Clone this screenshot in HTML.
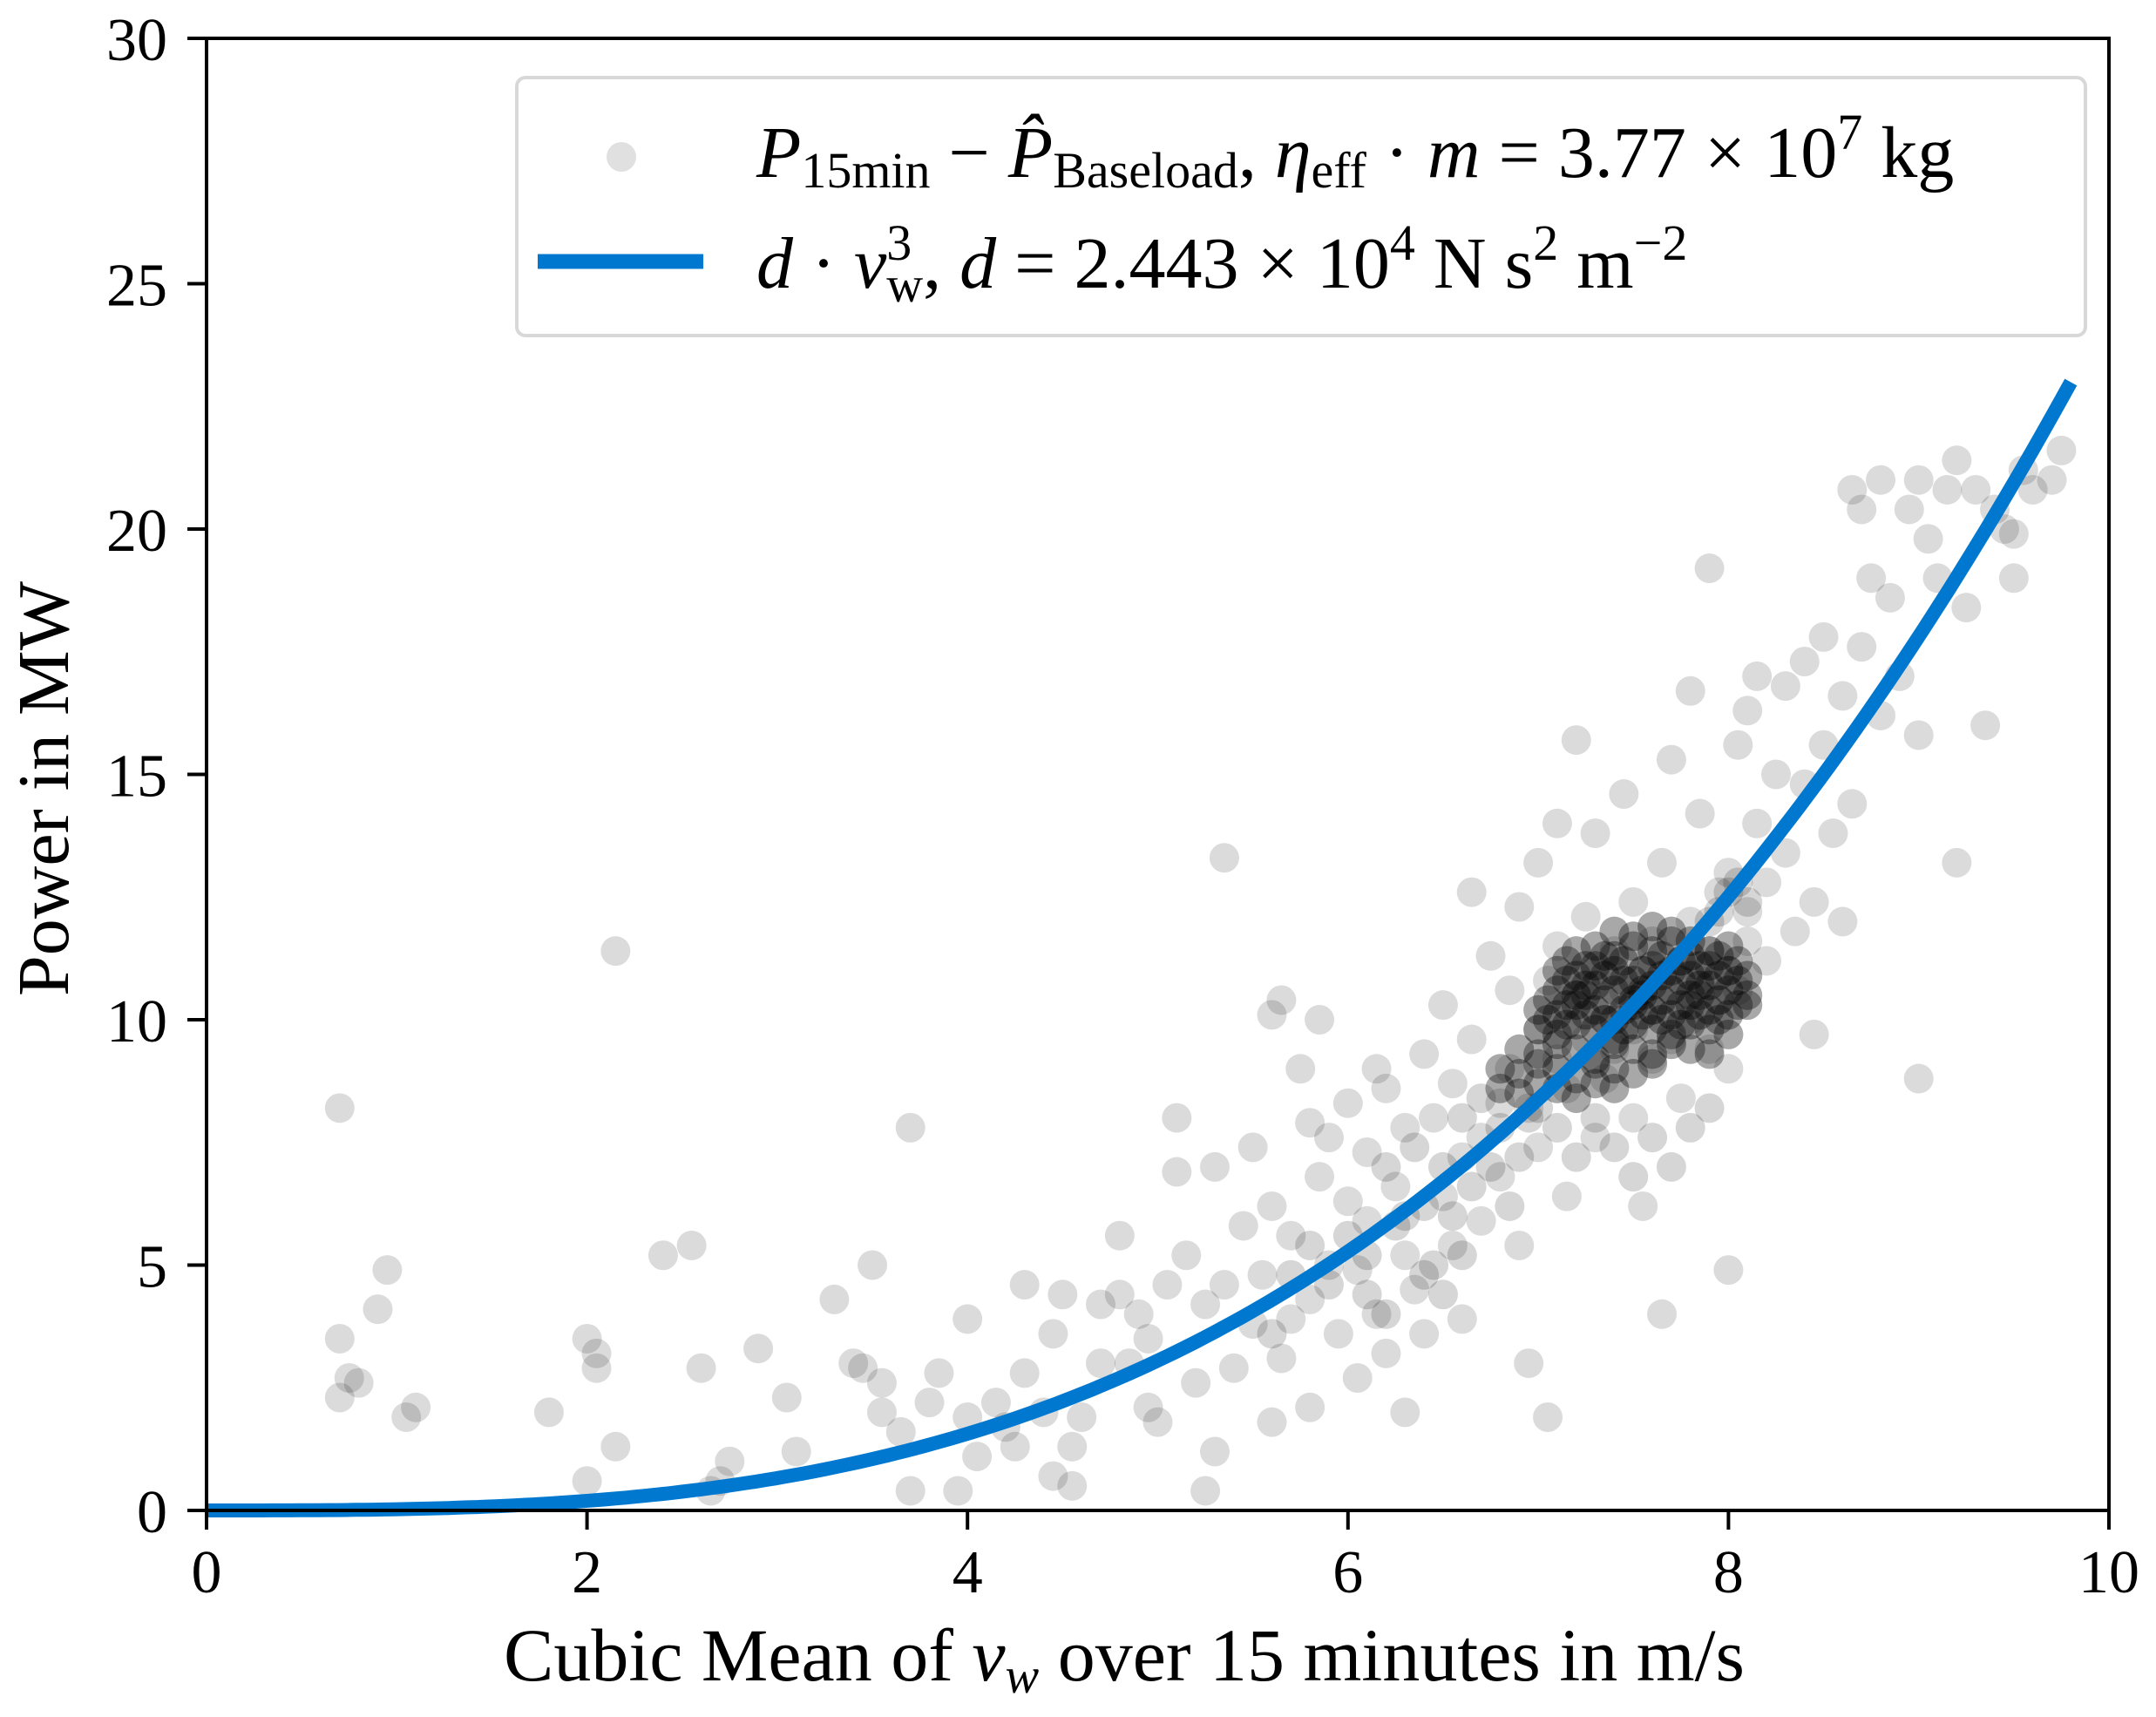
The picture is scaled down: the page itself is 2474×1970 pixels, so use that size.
<!DOCTYPE html>
<html><head><meta charset="utf-8"><style>
html,body{margin:0;padding:0;background:#fff;}
svg{display:block;font-family:"Liberation Serif",serif;}
</style></head><body>
<svg id="chart" width="2474" height="1970" viewBox="0 0 2474 1970">
<g id="dots"></g>
<path id="curve" fill="none" stroke="#0078d0" stroke-width="16"/>
<rect x="237" y="44" width="2183" height="1689" fill="none" stroke="#000" stroke-width="4"/>
<g id="axes"></g>
<text x="1290" y="1928" font-size="86" text-anchor="middle">Cubic Mean of <tspan font-style="italic">v</tspan><tspan font-style="italic" font-size="58" dy="14">w</tspan><tspan dy="-14"> over 15 minutes in m/s</tspan></text>
<text transform="translate(78,905) rotate(-90)" font-size="84" text-anchor="middle">Power in MW</text>
<g>
<rect x="593" y="89" width="1800" height="296" rx="10" fill="#fff" fill-opacity="0.85" stroke="#d8d8d8" stroke-width="4"/>
<circle cx="713" cy="180" r="17" fill="#000" fill-opacity="0.12"/>
<line x1="617" y1="300" x2="807" y2="300" stroke="#0078d0" stroke-width="17"/>
<text x="868" y="203" font-size="84"><tspan font-style="italic">P</tspan><tspan font-size="58" dy="12">15min</tspan><tspan dy="-12"> − </tspan><tspan font-style="italic">P̂</tspan><tspan font-size="58" dy="12">Baseload</tspan><tspan dy="-12">, </tspan><tspan font-style="italic">η</tspan><tspan font-size="58" dy="12">eff</tspan><tspan dy="-12"> · </tspan><tspan font-style="italic">m</tspan><tspan> = 3.77 × 10</tspan><tspan font-size="58" dy="-32">7</tspan><tspan dy="32"> kg</tspan></text>
<text x="868" y="330" font-size="84"><tspan font-style="italic">d</tspan><tspan> · </tspan><tspan font-style="italic">v</tspan><tspan font-size="58" dy="-32">3</tspan><tspan font-size="58" dx="-29" dy="48">w</tspan><tspan dy="-16">, </tspan><tspan font-style="italic">d</tspan><tspan> = 2.443 × 10</tspan><tspan font-size="58" dy="-32">4</tspan><tspan dy="32"> N s</tspan><tspan font-size="58" dy="-32">2</tspan><tspan dy="32"> m</tspan><tspan font-size="58" dy="-32">−2</tspan></text>
</g>
</svg>
<script>
const xTicks=[0,2,4,6,8,10];
const yTicks=[0,5,10,15,20,25,30];
const dCoef=0.02443;
const curveMaxV=9.8;
const sparseX=[0.7,0.7,0.7,0.75,0.8,0.9,0.95,1.05,1.1,1.8,2.0,2.05,2.05,2.15,2.0,2.15,2.4,2.55,2.6,2.75,2.7,2.65,2.9,3.05,3.1,3.3,3.4,3.45,3.55,3.5,3.55,3.7,3.65,3.7,3.8,3.85,3.95,4.0,4.0,4.05,4.15,4.2,4.25,4.3,4.3,4.4,4.45,4.5,4.45,4.55,4.55,4.6,4.7,4.7,4.8,4.8,4.85,4.9,4.95,4.95,5.0,5.05,5.1,5.1,5.15,5.2,5.25,5.3,5.25,5.3,5.35,5.35,5.4,5.45,5.5,5.5,5.55,5.6,5.6,5.6,5.65,5.65,5.7,5.7,5.75,5.8,5.8,5.8,5.85,5.85,5.9,5.9,5.95,6.0,6.0,6.05,6.05,6.1,6.1,6.15,6.15,6.2,6.2,6.25,6.3,6.3,6.3,6.35,6.4,6.4,6.45,6.5,6.5,6.55,6.55,6.6,6.6,6.65,6.65,6.7,6.7,6.75,6.8,6.8,6.85,6.85,6.9,6.9,6.95,6.95,7.0,7.0,7.0,7.05,7.05,7.1,7.1,7.1,7.15,7.15,7.2,7.2,7.25,7.25,7.3,7.3,7.3,7.35,7.35,7.4,7.4,7.45,7.45,7.5,7.5,7.5,7.55,7.55,7.6,7.6,7.6,7.65,7.65,7.7,7.7,7.7,7.75,7.75,7.8,7.8,7.8,7.85,7.85,7.9,7.9,7.95,7.95,8.0,8.0,8.0,8.0,8.05,8.05,8.1,8.1,8.15,8.15,8.2,8.2,8.25,8.3,8.3,8.35,8.4,8.4,8.45,8.45,8.5,8.5,8.55,8.6,8.6,8.65,8.65,8.7,8.7,8.75,8.8,8.8,8.85,8.9,8.95,9.0,9.0,9.0,9.05,9.1,9.15,9.2,9.2,9.25,9.3,9.35,9.4,9.45,9.5,9.5,9.55,9.6,9.7,9.75,7.9,8.1];
const sparseY=[8.2,3.5,2.3,2.7,2.6,4.1,4.9,1.9,2.1,2.0,3.5,3.2,2.9,1.3,0.6,11.4,5.2,5.4,2.9,1.0,0.6,0.4,3.3,2.3,1.2,4.3,3.0,2.9,2.6,5.0,2.0,7.8,1.6,0.4,2.2,2.8,0.4,3.9,1.9,1.1,2.2,1.7,1.3,4.6,2.8,2.0,3.6,4.4,0.7,0.5,1.3,1.9,4.2,3.0,4.4,5.6,3.0,4.0,3.5,2.1,1.8,4.6,6.9,8.0,5.2,2.6,4.2,7.0,0.4,1.2,13.3,4.6,2.9,5.8,7.4,3.8,4.8,10.1,6.2,1.8,10.4,3.1,5.6,3.9,9.0,7.9,4.3,2.1,10.0,6.8,7.6,5.0,3.6,8.3,6.3,4.9,2.7,5.9,7.3,9.0,4.0,3.2,8.6,6.6,7.8,5.2,2.0,4.5,9.3,3.6,8.0,6.4,10.3,5.4,8.7,7.2,3.9,12.6,9.6,7.6,5.9,11.3,8.3,6.8,10.6,9.0,12.3,5.4,3.0,8.2,9.8,13.2,7.4,10.8,1.9,11.5,14.0,9.2,6.4,8.6,15.7,10.5,12.1,9.6,11.0,7.6,13.8,10.0,8.8,11.4,9.4,10.6,14.6,12.4,9.8,8.0,11.0,6.2,10.2,11.6,9.2,13.2,4.0,10.6,15.3,9.6,11.2,8.4,16.7,10.0,12.0,10.8,14.2,11.4,9.4,12.6,10.4,13.0,11.0,9.0,4.9,10.6,15.6,12.2,11.6,17.0,14.0,12.8,11.2,15.0,16.8,13.4,11.8,17.3,14.8,12.4,9.7,17.8,15.6,13.8,16.6,12.0,20.8,14.4,20.4,17.6,19.0,16.2,21.0,18.6,17.0,20.4,8.8,15.8,21.0,19.8,19.0,20.8,13.2,21.4,18.4,20.8,16.0,20.4,20.0,19.9,19.0,21.2,20.8,21.0,21.6,19.2,16.3];
const midX=[6.0,6.1,6.2,6.25,6.3,6.35,6.4,6.45,6.5,6.55,6.6,6.65,6.7,6.75,6.8,6.85,6.9,6.95,7.0,6.1,6.2,5.9,5.8,5.7,5.6,6.4,6.5,6.6,7.1,7.2,7.3,7.4,7.5,7.6,7.7,7.8,7.9,8.1,8.0,7.95,8.05,7.9];
const midY=[5.6,5.2,7.0,5.8,6.0,7.4,6.2,5.0,7.0,6.0,8.0,6.6,8.4,7.0,7.8,6.2,7.2,8.0,8.2,4.4,4.0,4.6,5.4,4.8,3.6,4.8,4.4,5.2,7.8,7.2,8.0,7.4,6.8,7.6,7.0,7.8,8.2,12.4,12.6,12.2,12.8,12.0];
const clusterX=[7.4,7.5,7.6,7.7,7.8,
7.2,7.3,7.4,7.5,7.6,7.7,7.8,7.9,8.0,
7.1,7.2,7.3,7.4,7.5,7.6,7.7,7.8,7.9,8.0,8.1,
7.1,7.2,7.3,7.4,7.5,7.6,7.7,7.8,7.9,8.0,8.1,
7.0,7.1,7.2,7.3,7.4,7.5,7.6,7.7,7.8,7.9,8.0,8.1,
7.0,7.1,7.2,7.3,7.4,7.5,7.6,7.7,7.8,7.9,8.0,
6.9,7.0,7.1,7.2,7.3,7.4,7.5,7.6,7.7,7.8,7.9,
6.8,6.9,7.0,7.1,7.2,7.3,7.4,7.5,7.6,
6.8,6.9,7.0,7.1,7.2,7.3,7.4,
7.15,7.25,7.35,7.45,7.55,7.65,7.75,7.85,7.95,8.05,
7.15,7.25,7.35,7.45,7.55,7.65,7.75,7.85,7.95,8.05,
7.05,7.15,7.25,7.35,7.45,7.55,7.65,7.75,7.85,7.95,8.05,
7.05,7.15,7.25,7.35,7.45,7.55,7.65,7.75,7.85,7.95];
const clusterY=[11.8,11.7,11.9,11.8,11.6,
11.4,11.5,11.3,11.5,11.4,11.6,11.3,11.4,11.5,
11.0,10.9,11.1,11.0,10.8,11.1,11.0,10.9,11.1,11.0,10.9,
10.6,10.5,10.7,10.6,10.4,10.7,10.6,10.5,10.7,10.6,10.5,
10.2,10.1,10.3,10.2,10.0,10.3,10.2,10.1,10.3,10.2,10.1,10.3,
9.8,9.7,9.9,9.8,9.6,9.9,9.8,9.7,9.9,9.8,9.7,
9.4,9.3,9.5,9.4,9.2,9.5,9.4,9.3,9.5,9.4,9.3,
9.0,8.9,9.1,9.0,8.8,9.1,9.0,8.9,9.1,
8.6,8.5,8.7,8.6,8.4,8.7,8.6,
11.2,11.1,11.3,11.2,11.0,11.3,11.2,11.1,11.3,11.2,
10.8,10.7,10.9,10.8,10.6,10.9,10.8,10.7,10.9,10.8,
10.4,10.3,10.5,10.4,10.2,10.5,10.4,10.3,10.5,10.4,10.3,
10.0,9.9,10.1,10.0,9.8,10.1,10.0,9.9,10.1,10.0];
const X0=237,X1=2420,Y0=1733,Y1=44;
function sx(v){return X0+(v-0)/(10-0)*(X1-X0);}
function sy(v){return Y0-(v-0)/(30-0)*(Y0-Y1);}
const NS='http://www.w3.org/2000/svg';
const dots=document.getElementById('dots');
function drawPts(xs,ys,op){
  for(let i=0;i<xs.length;i++){
    const c=document.createElementNS(NS,'circle');
    c.setAttribute('cx',sx(xs[i]));c.setAttribute('cy',sy(ys[i]));
    c.setAttribute('r',17);c.setAttribute('fill','#000');c.setAttribute('fill-opacity',op);
    
    
    dots.appendChild(c);
  }
}
drawPts(sparseX,sparseY,0.14);
drawPts(midX,midY,0.16);
drawPts(clusterX,clusterY,0.34);
let d='';
for(let k=0;k<=200;k++){const v=curveMaxV*k/200;d+=(k?'L':'M')+sx(v).toFixed(1)+','+sy(dCoef*v*v*v).toFixed(1);}
document.getElementById('curve').setAttribute('d',d);
const axes=document.getElementById('axes');
xTicks.forEach(t=>{
  const l=document.createElementNS(NS,'line');
  l.setAttribute('x1',sx(t));l.setAttribute('x2',sx(t));l.setAttribute('y1',Y0);l.setAttribute('y2',Y0+22);
  l.setAttribute('stroke','#000');l.setAttribute('stroke-width','4');
  
  
  axes.appendChild(l);
  const tx=document.createElementNS(NS,'text');
  tx.setAttribute('x',sx(t));tx.setAttribute('y',1827);tx.setAttribute('font-size','70');tx.setAttribute('text-anchor','middle');
  tx.textContent=t;
  
  
  axes.appendChild(tx);
});
yTicks.forEach(t=>{
  const l=document.createElementNS(NS,'line');
  l.setAttribute('x1',X0-22);l.setAttribute('x2',X0);l.setAttribute('y1',sy(t));l.setAttribute('y2',sy(t));
  l.setAttribute('stroke','#000');l.setAttribute('stroke-width','4');
  
  
  axes.appendChild(l);
  const tx=document.createElementNS(NS,'text');
  tx.setAttribute('x',192);tx.setAttribute('y',sy(t)+25);tx.setAttribute('font-size','70');tx.setAttribute('text-anchor','end');
  tx.textContent=t;
  
  
  axes.appendChild(tx);
});
</script>
</body></html>
